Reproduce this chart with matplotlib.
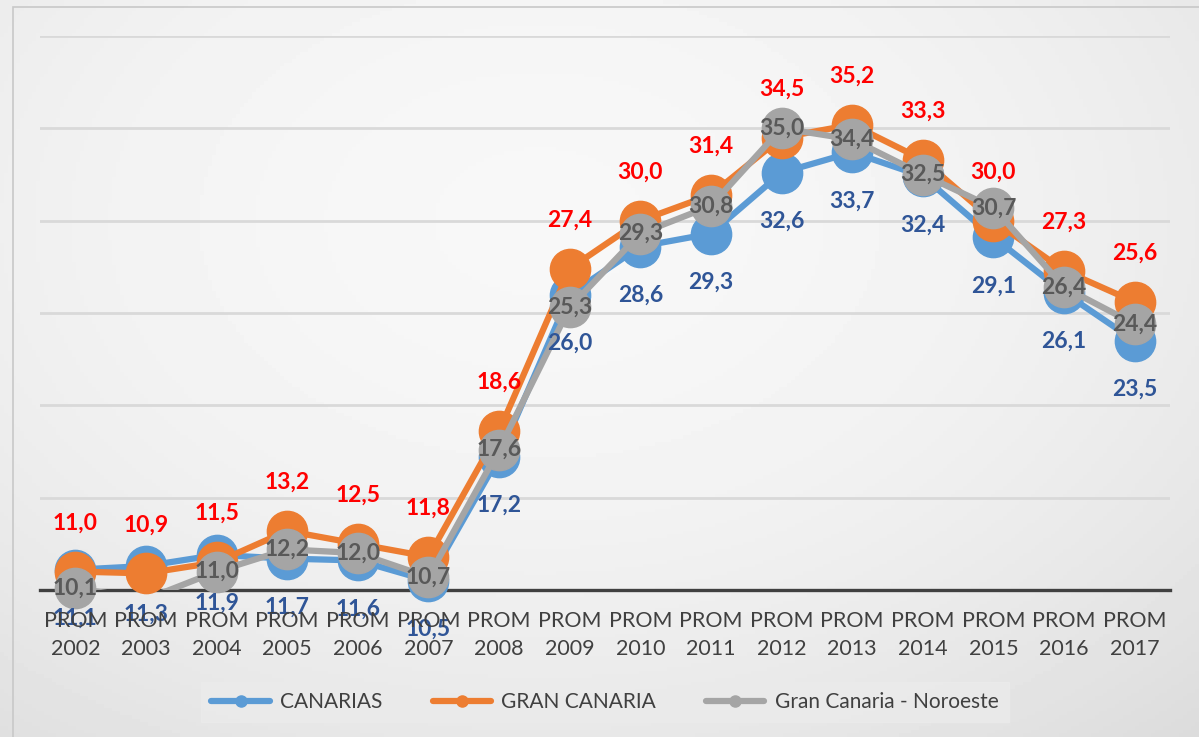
import numpy as np
import matplotlib
matplotlib.use("Agg")
import matplotlib.pyplot as plt
from matplotlib.lines import Line2D
from matplotlib.patches import Rectangle

plt.rcParams['font.family'] = ['Lato', 'DejaVu Sans']

years = ['2002', '2003', '2004', '2005', '2006', '2007', '2008', '2009',
         '2010', '2011', '2012', '2013', '2014', '2015', '2016', '2017']
tick_labels = ['PROM\n' + y for y in years]

canarias = [11.1, 11.3, 11.9, 11.7, 11.6, 10.5, 17.2, 26.0,
            28.6, 29.3, 32.6, 33.7, 32.4, 29.1, 26.1, 23.5]
gran_canaria = [11.0, 10.9, 11.5, 13.2, 12.5, 11.8, 18.6, 27.4,
                30.0, 31.4, 34.5, 35.2, 33.3, 30.0, 27.3, 25.6]
noroeste = [10.1, 9.5, 11.0, 12.2, 12.0, 10.7, 17.6, 25.3,
            29.3, 30.8, 35.0, 34.4, 32.5, 30.7, 26.4, 24.4]

series = [
    ('CANARIAS', canarias, '#5B9BD5', '#2F5597', -35),
    ('GRAN CANARIA', gran_canaria, '#ED7D31', '#FF0000', 35),
    ('Gran Canaria - Noroeste', noroeste, '#A5A5A5', '#595959', 0),
]

ymin, ymax = 10, 40


def main():
    fig = plt.figure(figsize=(11.99, 7.37), dpi=100)

    # soft gradient background
    bg = fig.add_axes([0, 0, 1, 1])
    bg.set_zorder(-5)
    yy, xx = np.mgrid[0:1:200j, 0:1:300j]
    r = ((xx - 0.45) / 0.75) ** 2 + ((yy - 0.3) / 0.85) ** 2
    grad = 0.97 - 0.09 * r
    bg.imshow(grad, cmap='gray', vmin=0, vmax=1, aspect='auto',
              extent=[0, 1, 0, 1], origin='upper')
    bg.add_patch(Rectangle((13 / 1199, -0.1), 1.2, 1 - 7 / 737 + 0.1,
                           fill=False, edgecolor='#c8c8c8', lw=1.2))
    bg.set_xlim(0, 1)
    bg.set_ylim(0, 1)
    bg.axis('off')

    ax = fig.add_axes([40 / 1199, 1 - 590 / 737, 1130 / 1199, 554 / 737])
    ax.set_facecolor('none')
    x = np.arange(len(years))

    for name, vals, col, lcol, off in series:
        v = np.array(vals)
        ax.plot(x, v, color=col, lw=4.5, zorder=2, solid_capstyle='round')
        show = v >= ymin
        ax.plot(x[show], v[show], 'o', color=col, ms=29, zorder=2,
                clip_on=False)

    for name, vals, col, lcol, off in series:
        for xi, v in zip(x, vals):
            if v < ymin:
                continue
            ax.annotate(f'{v:.1f}'.replace('.', ','), (xi, v),
                        xytext=(0, off), textcoords='offset points',
                        ha='center', va='center', fontsize=16.5,
                        fontweight='bold', color=lcol, zorder=4,
                        annotation_clip=False)

    ax.set_xlim(-0.5, len(years) - 0.5)
    ax.set_ylim(ymin, ymax)
    ax.set_yticks(np.arange(15, 41, 5))
    ax.yaxis.grid(True, color='#d9d9d9', lw=2)
    ax.yaxis.set_zorder(0.5)
    ax.tick_params(axis='y', left=False, labelleft=False)
    ax.set_xticks(x)
    ax.set_xticklabels(tick_labels, fontsize=15.5, color='#404040',
                       linespacing=1.5)
    ax.tick_params(axis='x', length=0, pad=15)
    ax.xaxis.set_zorder(5)
    for s in ['top', 'left', 'right']:
        ax.spines[s].set_visible(False)
    ax.spines['bottom'].set_color('#404040')
    ax.spines['bottom'].set_linewidth(2.4)
    ax.spines['bottom'].set_zorder(1)

    handles = [Line2D([], [], color=col, lw=4.5, marker='o', ms=8,
                      solid_capstyle='round')
               for name, vals, col, lcol, off in series]
    names = [s[0] for s in series]
    leg = fig.legend(handles, names, loc='center', ncol=3,
                     bbox_to_anchor=(605 / 1199, 1 - 702 / 737),
                     fontsize=15, frameon=True, fancybox=False,
                     handlelength=2.8, handletextpad=0.5,
                     columnspacing=2.4, borderpad=0.5, borderaxespad=0)
    leg.get_frame().set_facecolor('#ebebeb')
    leg.get_frame().set_edgecolor('#ebebeb')
    for t in leg.get_texts():
        t.set_color('#404040')

    fig.savefig('out.png', dpi=100)


if __name__ == "__main__":
    main()
